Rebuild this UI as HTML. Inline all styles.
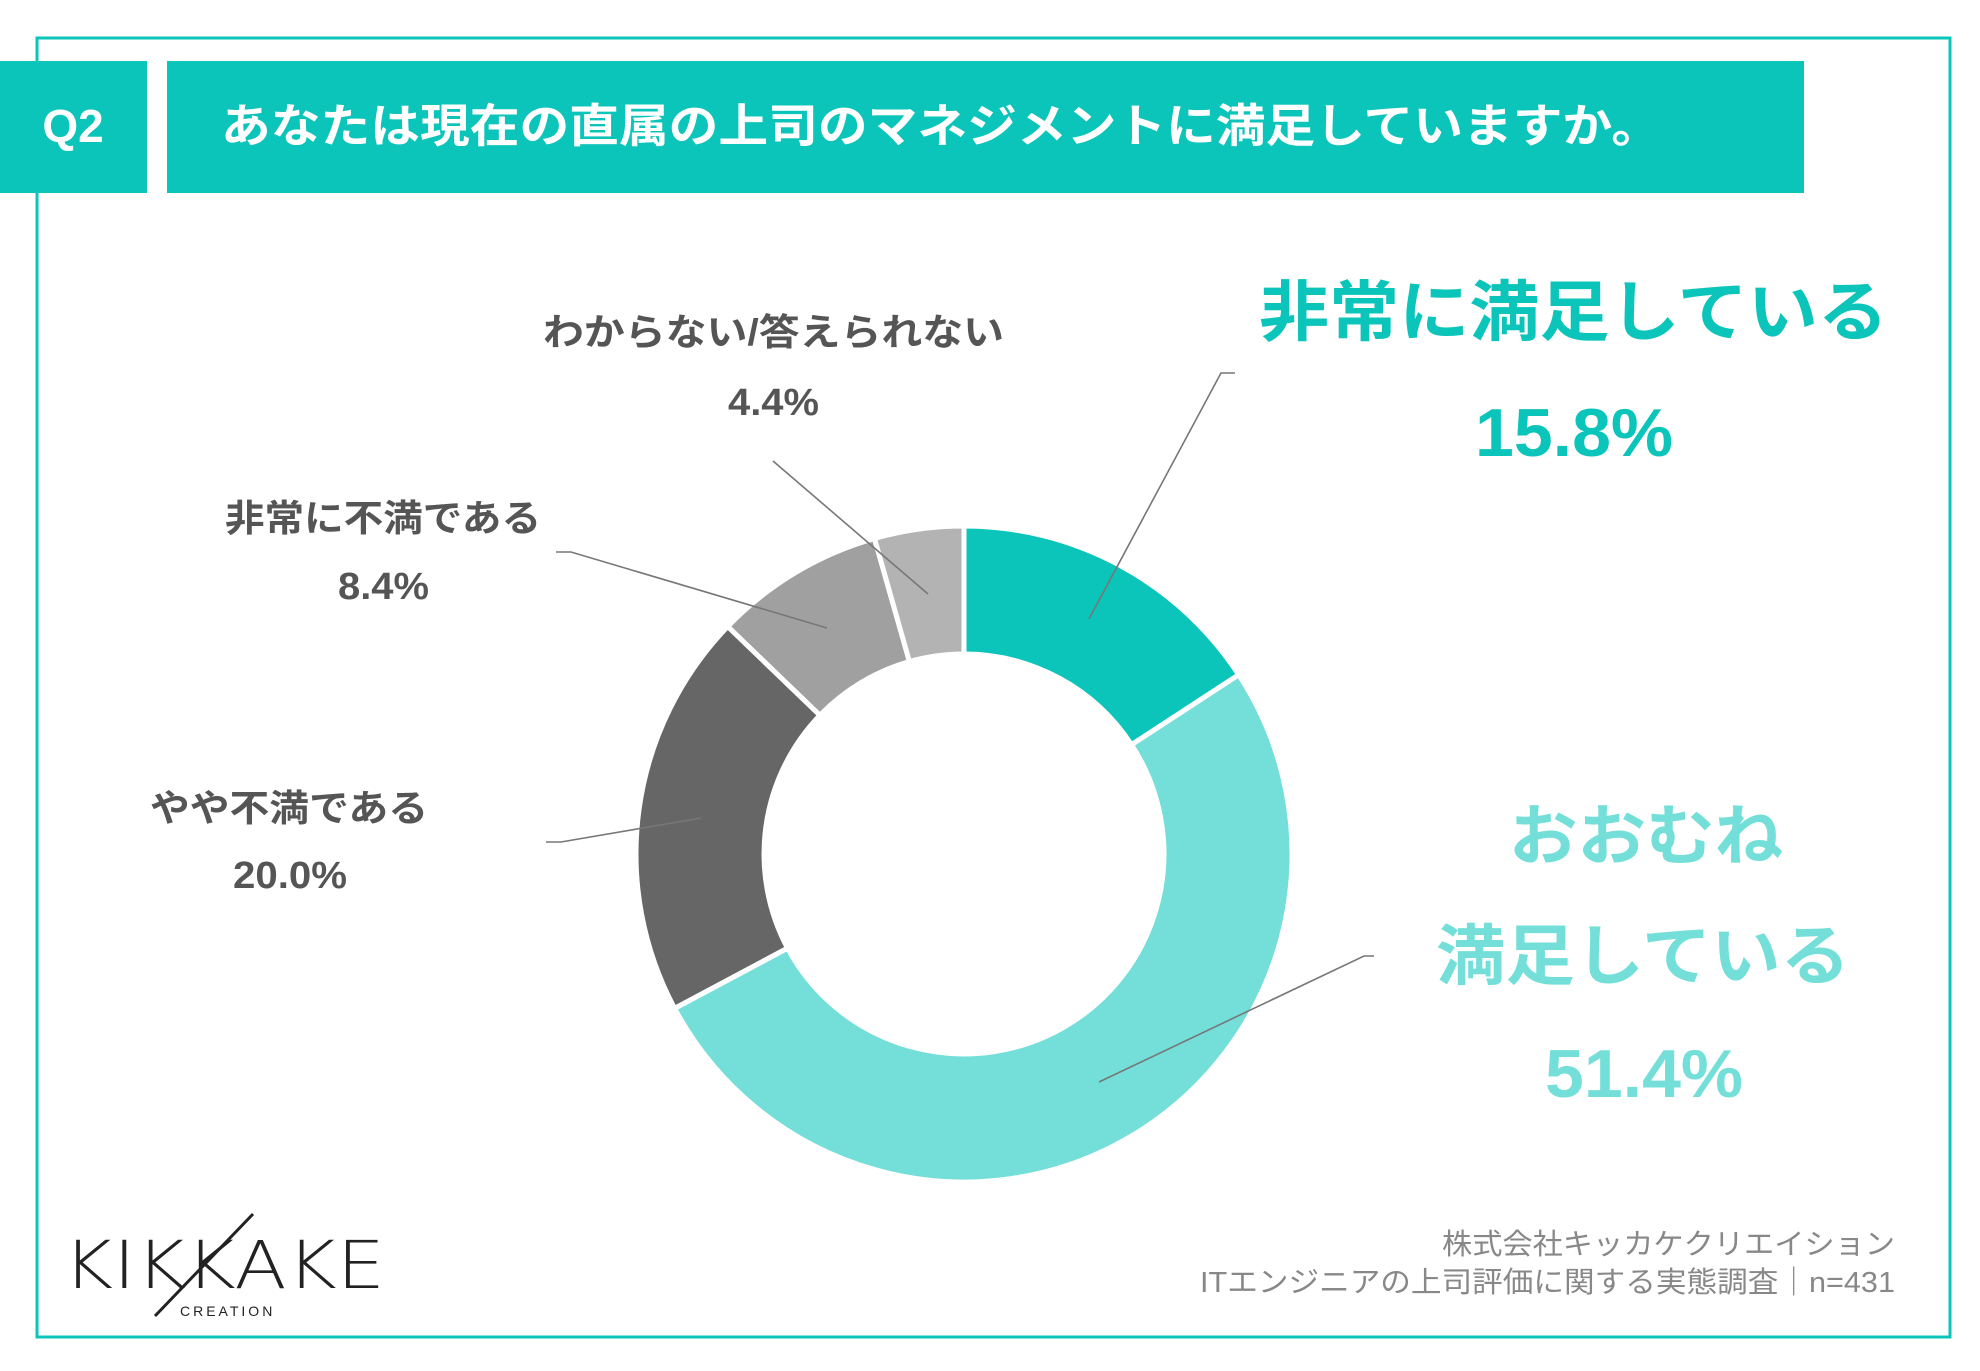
<!DOCTYPE html>
<html><head><meta charset="utf-8">
<style>
html,body{margin:0;padding:0;background:#fff;}
body{width:1980px;height:1371px;position:relative;overflow:hidden;font-family:"Liberation Sans","Noto Sans CJK JP",sans-serif;}
</style></head>
<body>
<svg width="1980" height="1371" viewBox="0 0 1980 1371" xmlns="http://www.w3.org/2000/svg" style="position:absolute;left:0;top:0">
<rect x="37" y="38" width="1913" height="1299" fill="none" stroke="#0BC4BA" stroke-width="3"/>
<rect x="0" y="61" width="147" height="132" fill="#0BC4BA"/>
<rect x="167" y="61" width="1637" height="132" fill="#0BC4BA"/>
<text x="73" y="142" text-anchor="middle" font-size="46" font-weight="bold" fill="#fff" font-family="Liberation Sans,sans-serif">Q2</text>
<text x="221" y="142" font-size="46" font-weight="bold" fill="#fff" textLength="1440" lengthAdjust="spacingAndGlyphs" font-family="Liberation Sans,'Noto Sans CJK JP',sans-serif">あなたは現在の直属の上司のマネジメントに満足していますか。</text>
<g id="donut"></g>
<g stroke="#777" stroke-width="1.6" fill="none">
<polyline points="1235,373 1221,373 1089,619"/>
<polyline points="1374,956 1364,956 1099,1082"/>
<polyline points="773,461 928,594"/>
<polyline points="556,552 571,552 827,628"/>
<polyline points="546,842 561,842 701,818"/>
</g>
<g font-family="Liberation Sans,'Noto Sans CJK JP',sans-serif" font-weight="bold" lengthAdjust="spacingAndGlyphs">
<text x="1259" y="335" font-size="66" fill="#0BC4BA" textLength="629" lengthAdjust="spacingAndGlyphs">非常に満足している</text>
<text x="1475" y="456" font-size="68" fill="#0BC4BA" textLength="198" lengthAdjust="spacingAndGlyphs">15.8%</text>
<text x="1509" y="859" font-size="66" fill="#73DFD8" textLength="274" lengthAdjust="spacingAndGlyphs">おおむね</text>
<text x="1436" y="979" font-size="66" fill="#73DFD8" textLength="414" lengthAdjust="spacingAndGlyphs">満足している</text>
<text x="1545" y="1097" font-size="68" fill="#73DFD8" textLength="198" lengthAdjust="spacingAndGlyphs">51.4%</text>
<text x="543" y="345" font-size="37" fill="#555" textLength="461" lengthAdjust="spacingAndGlyphs">わからない/答えられない</text>
<text x="728" y="415" font-size="38" fill="#555" textLength="91" lengthAdjust="spacingAndGlyphs">4.4%</text>
<text x="225" y="531" font-size="37" fill="#555" textLength="316" lengthAdjust="spacingAndGlyphs">非常に不満である</text>
<text x="338" y="599" font-size="38" fill="#555" textLength="91" lengthAdjust="spacingAndGlyphs">8.4%</text>
<text x="150" y="821" font-size="37" fill="#555" textLength="278" lengthAdjust="spacingAndGlyphs">やや不満である</text>
<text x="233" y="888" font-size="38" fill="#555" textLength="114" lengthAdjust="spacingAndGlyphs">20.0%</text>
</g>
<g font-family="Liberation Sans,'Noto Sans CJK JP',sans-serif" fill="#888" font-size="29">
<text x="1442" y="1254" textLength="453" lengthAdjust="spacingAndGlyphs">株式会社キッカケクリエイション</text>
<text x="1200" y="1292" textLength="695" lengthAdjust="spacingAndGlyphs">ITエンジニアの上司評価に関する実態調査｜n=431</text>
</g>
<text x="63" y="1288" font-size="66" fill="#222" font-family="DejaVu Sans,sans-serif" font-weight="200" textLength="322" lengthAdjust="spacingAndGlyphs">KIKKAKE</text>
<line x1="253" y1="1214" x2="155" y2="1316" stroke="#222" stroke-width="3"/>
<text x="180" y="1316" font-size="14" fill="#222" letter-spacing="3" font-family="Liberation Sans,sans-serif">CREATION</text>
</svg>
<script>
(function(){
var cx=964,cy=854,R=328,r=200;
var data=[[15.8,"#0BC4BA"],[51.4,"#73DFD8"],[20.0,"#666666"],[8.4,"#A0A0A0"],[4.4,"#B3B3B3"]];
var g=document.getElementById("donut"),a=0,s="";
function pt(rad,ang){var t=(ang-90)*Math.PI/180;return (cx+rad*Math.cos(t)).toFixed(2)+","+(cy+rad*Math.sin(t)).toFixed(2);}
data.forEach(function(d){var b=a+d[0]*3.6;var l=(b-a)>180?1:0;
s+='<path d="M'+pt(R,a)+' A'+R+','+R+' 0 '+l+' 1 '+pt(R,b)+' L'+pt(r,b)+' A'+r+','+r+' 0 '+l+' 0 '+pt(r,a)+' Z" fill="'+d[1]+'" stroke="#fff" stroke-width="5"/>';a=b;});
g.innerHTML=s;})();
</script>
</body></html>
